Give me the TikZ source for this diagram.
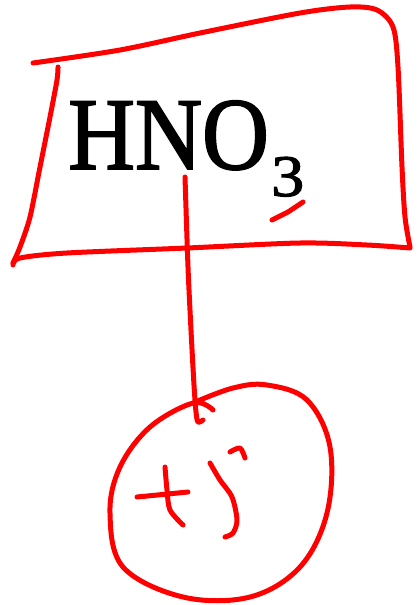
\documentclass[tikz,border=0pt]{standalone}
\usepackage{fontspec}
\setmainfont{Liberation Serif}
\newfontfamily\semibold[FakeBold=1.8]{Liberation Serif}
\begin{document}
\begin{tikzpicture}[x=1pt,y=-1pt,
  ink/.style={draw=red,line width=5pt,line cap=round,line join=round}]
\useasboundingbox (0,0) rectangle (418,605);
% box: top and right
\draw[ink] plot[smooth,tension=0.5] coordinates{(33,63) (120,50) (200,33) (300,13) (350,7) (377,10) (393,27) (398,67) (402,167) (405,217) (410,247)};
% bottom
\draw[ink] plot[smooth,tension=0.5] coordinates{(410,248) (367,245) (300,243) (187,248) (67,253) (20,258) (13,265)};
% left
\draw[ink] plot[smooth,tension=0.5] coordinates{(58,67) (57,80) (50,117) (40,167) (30,217) (20,247) (13,263)};
% formula
\node[anchor=base west,inner sep=0pt,font=\semibold\fontsize{103}{103}\selectfont,xscale=0.9] (hno) at (68,169) {HNO};
\node[anchor=base west,inner sep=0pt,font=\semibold\fontsize{59}{59}\selectfont,xscale=1.12] (sub) at (271,196) {3};
% underline mark
\draw[ink] (272,220) -- (288,212) -- (303,202);
% connector
\coordinate (top) at (185,177);
\draw[ink] plot[smooth,tension=0.5] coordinates{(top) (188,267) (191,330) (194,385) (196,412) (198,422) (203,420)};
% circle
\draw[ink] plot[smooth,tension=0.6] coordinates{(213,410) (193,403) (150,427) (120,467) (110,513) (123,567) (183,597) (250,597) (300,567) (327,513) (330,447) (307,400) (267,385) (233,388) (193,403)};
% +5 handwriting
\draw[ink] (137,497) -- (188,492);
\draw[ink] plot[smooth] coordinates{(165,467) (167,490) (170,510) (183,525)};
\draw[ink] plot[smooth] coordinates{(230,452) (240,448) (245,458)};
\draw[ink] plot[smooth] coordinates{(210,463) (220,480) (232,497) (237,520) (233,533) (225,537)};
\end{tikzpicture}
\end{document}
